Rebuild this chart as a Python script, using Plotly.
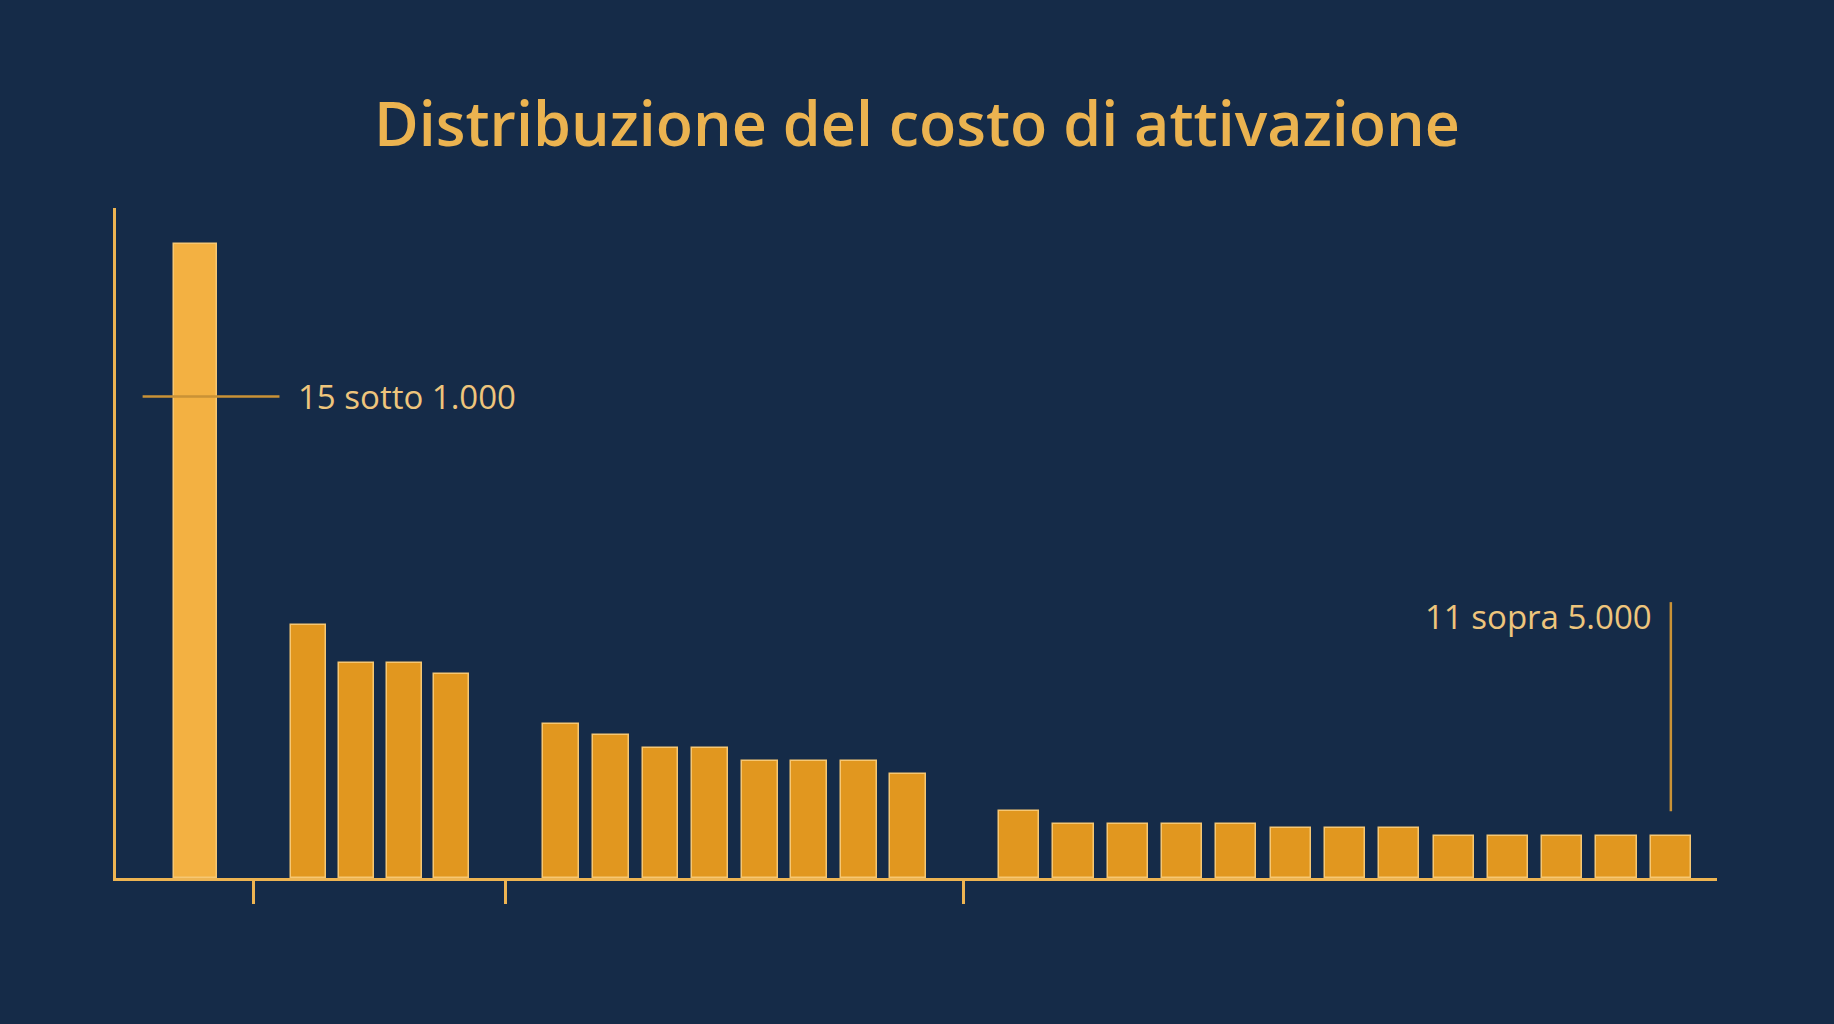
import plotly.graph_objects as go

# ---- data ----
groups = [0, 1, 1, 1, 1, 2, 2, 2, 2, 2, 2, 2, 2, 3, 3, 3, 3, 3, 3, 3, 3, 3, 3, 3, 3, 3]
values = [15.0,
          5.98, 5.09, 5.09, 4.82,
          3.65, 3.38, 3.07, 3.07, 2.77, 2.77, 2.77, 2.46,
          1.58, 1.27, 1.27, 1.27, 1.27, 1.19, 1.19, 1.19, 1.0, 1.0, 1.0, 1.0, 1.0]
title_text = "Distribuzione del costo di attivazione"
note_low = "15 sotto 1.000"
note_high = "11 sopra 5.000"
note_low_level = 11.4
note_high_range = [1.58, 6.53]

# ---- layout constants (styling) ----
GROUP_START = [0.0, 2.08, 6.73, 15.16]
GROUP_PITCH = [1.0, 0.877, 0.913, 1.0]
GROUP_WIDTH = [0.79, 0.645, 0.66, 0.74]
SEPARATORS = [1.07, 5.70, 14.14]

BG = "#152B48"
GOLD = "#EDB452"
BAR_MAIN = "#E1971F"
BAR_FIRST = "#F3B142"
OUTLINE = "#F6C773"

xs, ws, cols = [], [], []
counter = {}
for g in groups:
    i = counter.get(g, 0)
    counter[g] = i + 1
    xs.append(GROUP_START[g] + i * GROUP_PITCH[g])
    ws.append(GROUP_WIDTH[g])
    cols.append(BAR_FIRST if g == 0 else BAR_MAIN)

fig = go.Figure()
fig.add_trace(go.Bar(
    x=xs, y=values, width=ws,
    marker=dict(color=cols, line=dict(color=OUTLINE, width=1.5)),
    hoverinfo="skip", showlegend=False,
))

# horizontal marker line across first bar
fig.add_shape(type="line", xref="x", yref="y",
              x0=-0.98, x1=1.54, y0=note_low_level, y1=note_low_level,
              line=dict(color="#C99236", width=2.5), layer="above")
fig.add_annotation(x=1.84, y=note_low_level, xref="x", yref="y",
                   text=note_low, showarrow=False, xanchor="left", yanchor="middle",
                   font=dict(family="Open Sans", size=33, color="#EEC57C"))

# vertical marker line above last bar
last_x = xs[-1]
fig.add_shape(type="line", xref="x", yref="y",
              x0=last_x, x1=last_x, y0=note_high_range[0], y1=note_high_range[1],
              line=dict(color="#C99236", width=2.5))
fig.add_annotation(x=26.85, y=6.2, xref="x", yref="y",
                   text=note_high, showarrow=False, xanchor="right", yanchor="middle",
                   font=dict(family="Open Sans", size=33, color="#EEC57C"))

fig.update_layout(
    width=1834, height=1024,
    paper_bgcolor=BG, plot_bgcolor=BG,
    margin=dict(l=116, r=117, t=208, b=146),
    title=dict(text=title_text, x=0.5, xanchor="center", y=0.878, yanchor="middle",
               font=dict(family="Open Sans", size=61, weight=600, color="#EBB350")),
    xaxis=dict(range=[-1.47, 28.01], showgrid=False, zeroline=False,
               showline=True, linecolor=GOLD, linewidth=2.5,
               tickvals=SEPARATORS, ticks="outside", ticklen=23, tickwidth=2.5,
               tickcolor=GOLD, showticklabels=False),
    yaxis=dict(range=[0, 15.86], showgrid=False, zeroline=False,
               showline=True, linecolor=GOLD, linewidth=2.5,
               showticklabels=False, ticks=""),
    bargap=0,
)

fig.write_html(
    "out.html",
    config={"displayModeBar": False},
    post_script="document.body.style.margin='0';document.body.style.background='" + BG + "';",
)
